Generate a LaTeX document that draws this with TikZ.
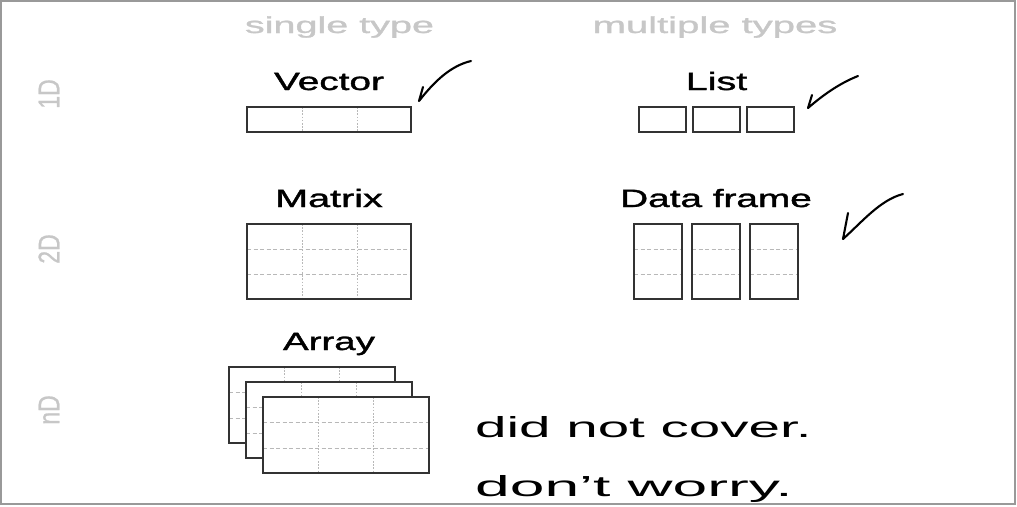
\documentclass[tikz,border=0pt]{standalone}
\usepackage{fontspec}
\setmainfont{Liberation Sans}
\newfontfamily\titlefont[FakeBold=1.2]{Liberation Sans}
\newfontfamily\headfont[FakeBold=1.0]{Liberation Sans}
\begin{document}
\begin{tikzpicture}[x=1pt,y=-1pt,
  frame/.style={draw=black!80, line width=1.3pt},
  vgrid/.style={draw=black!28, line width=0.9pt, dash pattern=on 1.6pt off 1.6pt},
  hgrid/.style={draw=black!28, line width=0.9pt, dash pattern=on 4pt off 2.5pt},
  title/.style={font=\titlefont\fontsize{25}{25}\selectfont, text=black, inner sep=0pt, anchor=base},
  head/.style={font=\headfont\fontsize{23}{23}\selectfont, text=black!22, inner sep=0pt, anchor=base},
  rowlab/.style={font=\headfont\fontsize{23}{23}\selectfont, text=black!22, inner sep=0pt, rotate=90},
  hand/.style={font=\fontsize{29}{29}\selectfont, text=black, inner sep=0pt, anchor=base west},
  tick/.style={draw=black, line width=2.1pt, line cap=round, line join=round}
]
\useasboundingbox (0,0) rectangle (1017,506);
\fill[white] (0,0) rectangle (1017,506);

% column headings
\node[head] (hsingle) at (339.5,33) {\scalebox{1.72}[1]{single type}};
\node[head] (hmulti) at (715,33) {\scalebox{1.74}[1]{multiple types}};

% row labels
\node[rowlab] (r1) at (49,94) {\scalebox{1}[1.3]{1D}};
\node[rowlab] (r2) at (49,249) {\scalebox{1}[1.3]{2D}};
\node[rowlab] (r3) at (49,410) {\scalebox{1}[1.3]{nD}};

% titles
\node[title] (tvec) at (329,90) {\scalebox{1.55}[1]{Vector}};
\node[title] (tlist) at (716.5,90) {\scalebox{1.58}[1]{List}};
\node[title] (tmat) at (329,207) {\scalebox{1.58}[1]{Matrix}};
\node[title] (tdf) at (716,207) {\scalebox{1.55}[1]{Data frame}};
\node[title] (tarr) at (329,350) {\scalebox{1.54}[1]{Array}};

% Vector
\draw[vgrid] (302,107) -- (302,132) (357,107) -- (357,132);
\draw[frame] (247,107) rectangle (411,132);

% List
\draw[frame] (639,107) rectangle (686,132);
\draw[frame] (693,107) rectangle (740,132);
\draw[frame] (747,107) rectangle (794,132);

% Matrix
\draw[vgrid] (302,224) -- (302,299) (357,224) -- (357,299);
\draw[hgrid] (247,249) -- (411,249) (247,274) -- (411,274);
\draw[frame] (247,224) rectangle (411,299);

% Data frame
\foreach \xa/\xb in {634/682, 692/740, 750/798}{
  \draw[hgrid] (\xa,249) -- (\xb,249) (\xa,274) -- (\xb,274);
  \draw[frame] (\xa,224) rectangle (\xb,299);
}

% Array
\foreach \dx/\dy in {0/0, 17/15, 34/30}{
  \begin{scope}[shift={(\dx,\dy)}]
    \fill[white] (229,367) rectangle (395,443);
    \draw[vgrid] (284.5,367) -- (284.5,443) (339.5,367) -- (339.5,443);
    \draw[hgrid] (229,392) -- (395,392) (229,418) -- (395,418);
    \draw[frame] (229,367) rectangle (395,443);
  \end{scope}
}

% handwritten checkmarks
\draw[tick] (423,87) -- (419,101) .. controls (434,82) and (450,66) .. (471,61);
\draw[tick] (812,95) -- (808,108) .. controls (822,96) and (838,84) .. (858,76);
\draw[tick] (848,213) -- (843,239) .. controls (862,222) and (880,200) .. (903,194);

% handwritten notes
\begin{scope}
  \clip (2,2) rectangle (1014,503);
  \node[hand] (n1) at (475,437) {\scalebox{1.95}[1]{did not cover.}};
  \node[hand] (n2) at (475,496) {\scalebox{2.15}[1]{don't worry.}};
\end{scope}

% outer border
\draw[black!40, line width=1.5pt] (1,1) rectangle (1015,504);
\end{tikzpicture}
\end{document}
